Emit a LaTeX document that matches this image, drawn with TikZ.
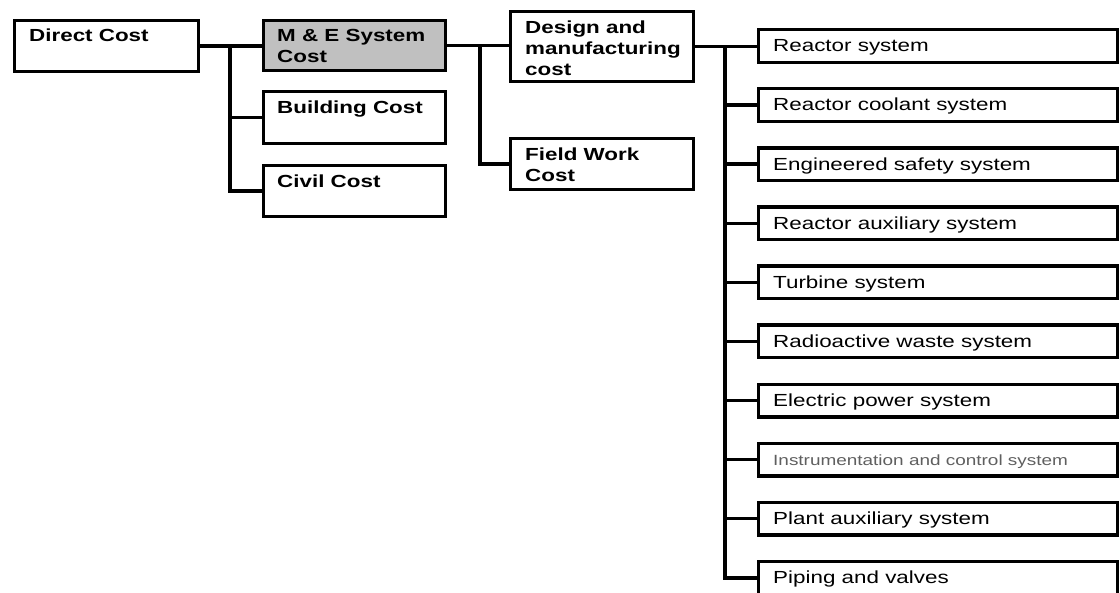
\documentclass[tikz,border=0pt]{standalone}
\usepackage{fontspec}
\setmainfont{Liberation Sans}[FakeStretch=1.28]
\definecolor{mefill}{RGB}{192,192,192}
\definecolor{icgray}{RGB}{95,95,95}
\tikzset{
  costbox/.style={draw=black, line width=3.4pt, rectangle, inner sep=0pt, outer sep=0pt, anchor=north west},
  headtext/.style={anchor=north west, inner sep=0pt, align=left, font=\fontsize{17.5}{21}\selectfont\bfseries},
  itemtext/.style={anchor=north west, inner sep=0pt, align=left, font=\fontsize{17.5}{21}\selectfont},
  smalltext/.style={anchor=north west, inner sep=0pt, align=left, text=icgray, font=\fontsize{14.8}{18}\selectfont, yshift=-2pt},
  conn/.style={draw=black, line width=3.4pt},
}
% name, left, top, width, height (outer edges of the frame), extra style
\newcommand\costframe[6]{%
  \node[costbox,#6,minimum width={#4pt-3.4pt},minimum height={#5pt-3.4pt}] (#1) at ({#2+1.7},{#3+1.7}) {};}
\begin{document}
\begin{tikzpicture}[x=1pt,y=-1pt]
\useasboundingbox (0,0) rectangle (1120,593);
\clip (0,0) rectangle (1120,593);

% first level
\costframe{direct}{13}{19}{187}{54}{}
\node[headtext] (direct-t) at (29,29) {Direct Cost};

% second level
\costframe{me}{262}{19}{185}{53}{fill=mefill}
\node[headtext] (me-t) at (277,29) {M \& E System\\Cost};
\costframe{building}{262}{90}{185}{55}{}
\node[headtext] (building-t) at (277,101) {Building Cost};
\costframe{civil}{262}{164}{185}{54}{}
\node[headtext] (civil-t) at (277,175) {Civil Cost};

% third level
\costframe{design}{509}{10}{186}{73}{}
\node[headtext] (design-t) at (525,21) {Design and\\manufacturing\\cost};
\costframe{field}{509}{137}{186}{54}{}
\node[headtext] (field-t) at (525,148) {Field Work\\Cost};

% system breakdown
\foreach \t/\s [count=\i from 0] in {
    Reactor system/itemtext,
    Reactor coolant system/itemtext,
    Engineered safety system/itemtext,
    Reactor auxiliary system/itemtext,
    Turbine system/itemtext,
    Radioactive waste system/itemtext,
    Electric power system/itemtext,
    Instrumentation and control system/smalltext,
    Plant auxiliary system/itemtext,
    Piping and valves/itemtext} {
  \pgfmathsetmacro\ty{28+59.1*\i}
  \costframe{r\i}{757}{\ty}{362}{36}{}
  \node[\s] (r\i-t) at (773,\ty+11) {\t};
}

% trunk positions
\coordinate (j1) at (230,0);
\coordinate (j2) at (480,0);
\coordinate (j3) at (725,0);

% connectors
\draw[conn] (direct.east) -- (direct.east -| me.west);
\draw[conn] (j1 |- direct.east) |- (building.west);
\draw[conn] (j1 |- direct.east) |- (civil.west);

\draw[conn] (me.east) -- (me.east -| design.west);
\draw[conn] (j2 |- me.east) |- (field.west);

\draw[conn] (design.east) -- (design.east -| r0.west);
\draw[conn] (j3 |- design.east) |- (r9.west);
\foreach \i in {1,...,8} {
  \draw[conn] (j3 |- r\i.west) -- (r\i.west);
}
\end{tikzpicture}
\end{document}
